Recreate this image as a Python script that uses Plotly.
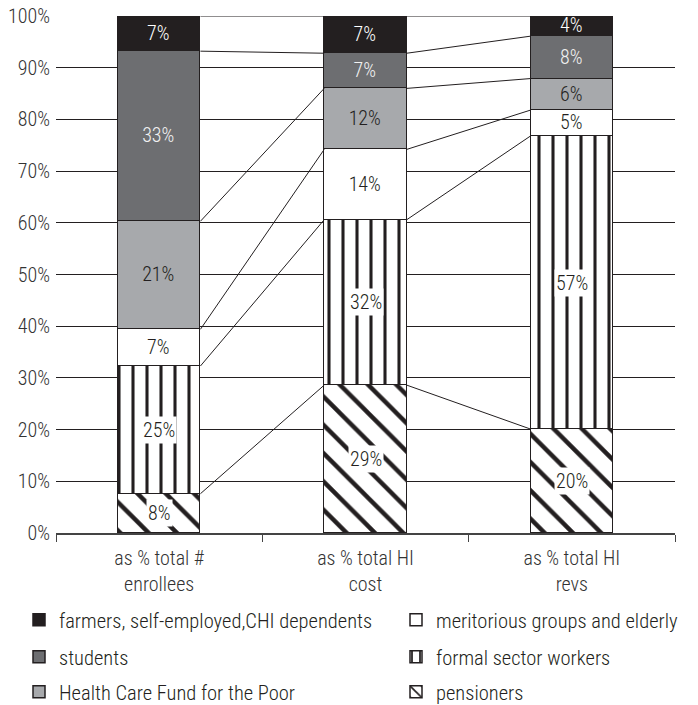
import plotly.graph_objects as go

categories = ["as % total #<br>enrollees", "as % total HI<br>cost", "as % total HI<br>revs"]

# segment shares (bottom to top)
pensioners = [7.6, 28.6, 20.1]
formal_sector = [24.7, 32.0, 56.7]
meritorious = [7.1, 13.6, 5.0]
hcfp = [20.9, 11.8, 6.1]
students = [32.9, 6.8, 8.2]
farmers = [6.8, 7.2, 3.9]

y_ticks = list(range(0, 101, 10))

FAM = "Roboto Condensed"
W = 300
INK = "#231f20"
BAR_W = 0.4
xs = [0, 1, 2]

# page body has an 8px margin: figure is offset by (8, 8) in the window
OFF = 8
FIG_W, FIG_H = 698 - OFF, 705 - OFF


def fnt(size=20, color=INK):
    return dict(family=FAM, size=size, color=color, weight=W)


# name, values, marker, label colour (None -> boxed annotation), legend id
series = [
    ("pensioners", pensioners, dict(color="white", pattern=dict(shape="\\", fgcolor=INK, bgcolor="white", size=20, solidity=0.22, fillmode="replace")), None, "legend6"),
    ("formal sector workers", formal_sector, dict(color="white", pattern=dict(shape="|", fgcolor=INK, bgcolor="white", size=14, solidity=0.22, fillmode="replace")), None, "legend5"),
    ("meritorious groups and elderly", meritorious, dict(color="white"), INK, "legend4"),
    ("Health Care Fund for the Poor", hcfp, dict(color="#a7a9ac"), INK, "legend3"),
    ("students", students, dict(color="#6d6e71"), "#f2f2f2", "legend2"),
    ("farmers, self-employed,CHI dependents", farmers, dict(color=INK), "white", "legend"),
]

fig = go.Figure()
annotations = []
cum = [[0, 0, 0]]
for name, vals, marker, tcol, leg in series:
    marker = dict(marker)
    marker["line"] = dict(color=INK, width=1.5)
    kw = {}
    if tcol is not None:
        kw = dict(texttemplate="%{y:.0f}%", textposition="inside", insidetextanchor="middle",
                  textfont=fnt(20, tcol), constraintext="none", textangle=0)
    fig.add_trace(go.Bar(x=xs, y=vals, width=BAR_W, name=name, marker=marker,
                         legend=leg, hoverinfo="skip", **kw))
    base = cum[-1]
    top = [b + v for b, v in zip(base, vals)]
    if tcol is None:
        for i in range(3):
            annotations.append(dict(x=xs[i], y=(base[i] + top[i]) / 2, xref="x", yref="y",
                                    text=f"{round(vals[i])}%", showarrow=False, bgcolor="white",
                                    borderpad=1, font=fnt(20)))
    cum.append(top)

# connector lines between adjacent bars at each segment top
for level in cum[1:]:
    for i in range(2):
        fig.add_trace(go.Scatter(x=[xs[i] + BAR_W / 2, xs[i + 1] - BAR_W / 2], y=[level[i], level[i + 1]],
                                 mode="lines", line=dict(color=INK, width=1), showlegend=False,
                                 hoverinfo="skip"))

# plot area in window pixels (reference), converted to figure pixels
PLOT_T, PLOT_B, PLOT_L, PLOT_R = 16 - OFF, 533 - OFF, 56 - OFF, 675 - OFF
PH = PLOT_B - PLOT_T
PW = PLOT_R - PLOT_L


def py(pix):
    return (PLOT_B - (pix - OFF)) / PH


def px(pix):
    return ((pix - OFF) - PLOT_L) / PW


leg_common = dict(orientation="h", xanchor="left", yanchor="middle", itemwidth=30,
                  font=fnt(20.5), bgcolor="rgba(0,0,0,0)")
COL1, COL2 = 19, 396
ROWS = [620, 657, 692]

fig.update_layout(
    width=FIG_W, height=FIG_H,
    margin=dict(l=PLOT_L, r=FIG_W - PLOT_R, t=PLOT_T, b=FIG_H - PLOT_B, autoexpand=False),
    paper_bgcolor="white", plot_bgcolor="white",
    barmode="stack", bargap=0,
    font=fnt(20),
    annotations=annotations,
    legend=dict(leg_common, x=px(COL1), y=py(ROWS[0])),
    legend2=dict(leg_common, x=px(COL1), y=py(ROWS[1])),
    legend3=dict(leg_common, x=px(COL1), y=py(ROWS[2])),
    legend4=dict(leg_common, x=px(COL2), y=py(ROWS[0])),
    legend5=dict(leg_common, x=px(COL2), y=py(ROWS[1])),
    legend6=dict(leg_common, x=px(COL2), y=py(ROWS[2])),
    xaxis=dict(range=[-0.5, 2.5], tickvals=xs, ticktext=categories, ticks="", showgrid=False,
               zeroline=False, showline=True, linecolor="#444", linewidth=1.5,
               ticklabelstandoff=6, tickfont=fnt(20, "#333"), ticklabeloverflow="allow",
               minor=dict(tickvals=[-0.5, 0.5, 1.5, 2.5], ticks="outside", ticklen=7,
                          tickcolor="#444", tickwidth=1, showgrid=False)),
    yaxis=dict(range=[0, 100], tickvals=y_ticks, ticktext=[f"{v}%" for v in y_ticks], ticks="",
               showgrid=True, gridcolor=INK, gridwidth=1, zeroline=False, showline=False,
               ticklabelstandoff=5, tickfont=fnt(20, "#333"), ticklabeloverflow="allow"),
)

fig.write_html("out.html")
